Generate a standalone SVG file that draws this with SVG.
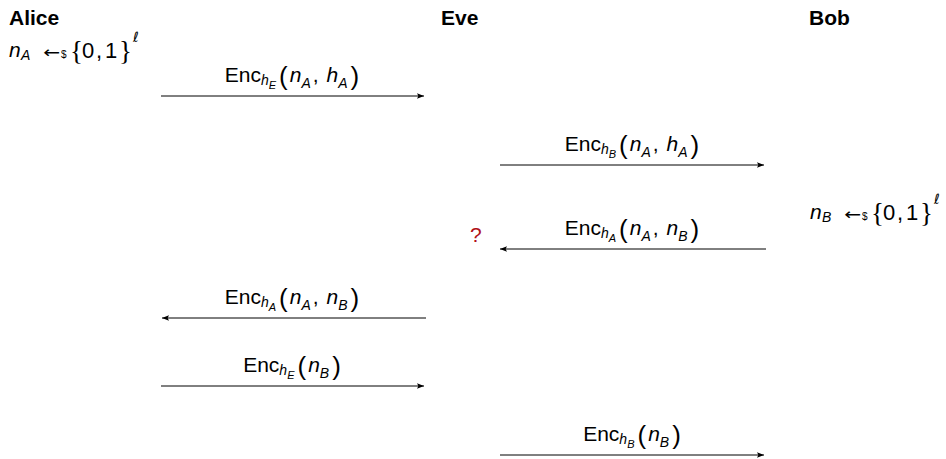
<svg xmlns="http://www.w3.org/2000/svg" width="946" height="459" viewBox="0 0 946 459">
  <defs>
    <marker id="head" viewBox="0 0 10 10" refX="10" refY="5" markerWidth="9" markerHeight="7" markerUnits="userSpaceOnUse" orient="auto">
      <path d="M0,1 L10,5 L0,9 L2,5 Z" fill="#000"/>
    </marker>
    <style>
      text { font-family: "Liberation Sans", Arial, sans-serif; fill: #000; font-size: 21px; }
      .party { font-weight: bold; font-size: 21px; }
      .m { font-style: italic; }
      .sub { font-size: 14px; font-style: italic; }
      .subsub { font-size: 11px; font-style: italic; }
      .par { font-size: 26px; }
      .br { font-family: "Liberation Serif", serif; font-size: 27px; }
      .dig { font-size: 22px; }
      .arr { font-family: "DejaVu Sans", sans-serif; font-size: 16px; }
      .dol { font-size: 10px; }
      .ell { font-family: "DejaVu Sans", sans-serif; font-size: 14px; font-style: italic; }
      .msg { stroke: #000; stroke-width: 1; fill: none; marker-end: url(#head); }
      .q { fill: #b01018; }
      .lbl { text-anchor: middle; }
    </style>
  </defs>

  <!-- participants -->
  <g id="alice">
    <text class="party" x="9" y="24.5">Alice</text>
    <text x="9" y="57"><tspan class="m">n</tspan><tspan class="sub" x="21" y="60">A</tspan><tspan class="arr" x="43" y="58" textLength="17" lengthAdjust="spacingAndGlyphs">←</tspan><tspan class="dol" x="61" y="58">$</tspan><tspan class="br" x="70" y="60">{</tspan><tspan class="dig" x="82" y="58">0</tspan><tspan class="dig" x="96" y="58">,</tspan><tspan class="dig" x="105" y="58">1</tspan><tspan class="br" x="119" y="60">}</tspan><tspan class="ell" x="133" y="42">ℓ</tspan></text>
  </g>
  <g id="eve">
    <text class="party" x="441" y="24.5">Eve</text>
    <text class="q" x="470" y="242">?</text>
  </g>
  <g id="bob">
    <text class="party" x="809" y="24.5">Bob</text>
    <text x="810" y="219"><tspan class="m">n</tspan><tspan class="sub" x="822" y="222">B</tspan><tspan class="arr" x="844" y="220" textLength="17" lengthAdjust="spacingAndGlyphs">←</tspan><tspan class="dol" x="862" y="220">$</tspan><tspan class="br" x="871" y="222">{</tspan><tspan class="dig" x="883" y="220">0</tspan><tspan class="dig" x="897" y="220">,</tspan><tspan class="dig" x="906" y="220">1</tspan><tspan class="br" x="920" y="222">}</tspan><tspan class="ell" x="934" y="204">ℓ</tspan></text>
  </g>

  <!-- messages -->
  <g id="connectors">
    <line class="msg" x1="161" y1="96" x2="424" y2="96"/>
    <line class="msg" x1="500" y1="165" x2="764" y2="165"/>
    <line class="msg" x1="766" y1="249" x2="500" y2="249"/>
    <line class="msg" x1="426" y1="318" x2="162" y2="318"/>
    <line class="msg" x1="161" y1="386" x2="424" y2="386"/>
    <line class="msg" x1="500" y1="455" x2="764" y2="455"/>
  </g>

  <!-- message labels: Enc_{h_X}(...) centred over their arrows -->
  <g id="labels">
    <text class="lbl" x="292" y="82">Enc<tspan class="sub" dy="3">h</tspan><tspan class="subsub" dy="4">E</tspan><tspan class="par" dx="3" dy="-4">(</tspan><tspan class="m" dx="2" dy="-3">n</tspan><tspan class="sub" dy="6">A</tspan><tspan dx="2" dy="-6">,</tspan><tspan class="m" dx="8">h</tspan><tspan class="sub" dy="6">A</tspan><tspan class="par" dx="3" dy="-3">)</tspan></text>

    <text class="lbl" x="632" y="151">Enc<tspan class="sub" dy="3">h</tspan><tspan class="subsub" dy="4">B</tspan><tspan class="par" dx="3" dy="-4">(</tspan><tspan class="m" dx="2" dy="-3">n</tspan><tspan class="sub" dy="6">A</tspan><tspan dx="2" dy="-6">,</tspan><tspan class="m" dx="8">h</tspan><tspan class="sub" dy="6">A</tspan><tspan class="par" dx="3" dy="-3">)</tspan></text>

    <text class="lbl" x="632" y="235">Enc<tspan class="sub" dy="3">h</tspan><tspan class="subsub" dy="4">A</tspan><tspan class="par" dx="3" dy="-4">(</tspan><tspan class="m" dx="2" dy="-3">n</tspan><tspan class="sub" dy="6">A</tspan><tspan dx="2" dy="-6">,</tspan><tspan class="m" dx="8">n</tspan><tspan class="sub" dy="6">B</tspan><tspan class="par" dx="3" dy="-3">)</tspan></text>

    <text class="lbl" x="292" y="304">Enc<tspan class="sub" dy="3">h</tspan><tspan class="subsub" dy="4">A</tspan><tspan class="par" dx="3" dy="-4">(</tspan><tspan class="m" dx="2" dy="-3">n</tspan><tspan class="sub" dy="6">A</tspan><tspan dx="2" dy="-6">,</tspan><tspan class="m" dx="8">n</tspan><tspan class="sub" dy="6">B</tspan><tspan class="par" dx="3" dy="-3">)</tspan></text>

    <text class="lbl" x="292" y="372">Enc<tspan class="sub" dy="3">h</tspan><tspan class="subsub" dy="4">E</tspan><tspan class="par" dx="3" dy="-4">(</tspan><tspan class="m" dx="2" dy="-3">n</tspan><tspan class="sub" dy="6">B</tspan><tspan class="par" dx="3" dy="-3">)</tspan></text>

    <text class="lbl" x="632" y="441">Enc<tspan class="sub" dy="3">h</tspan><tspan class="subsub" dy="4">B</tspan><tspan class="par" dx="3" dy="-4">(</tspan><tspan class="m" dx="2" dy="-3">n</tspan><tspan class="sub" dy="6">B</tspan><tspan class="par" dx="3" dy="-3">)</tspan></text>
  </g>
</svg>
